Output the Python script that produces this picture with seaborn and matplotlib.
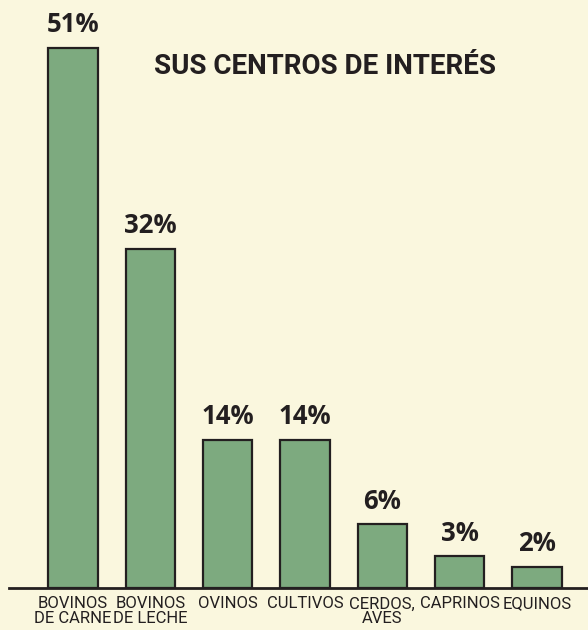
import matplotlib
matplotlib.use("Agg")
import matplotlib.pyplot as plt
import seaborn as sns
import pandas as pd

categories = ["BOVINOS\nDE CARNE", "BOVINOS\nDE LECHE", "OVINOS", "CULTIVOS", "CERDOS,\nAVES", "CAPRINOS", "EQUINOS"]
values = [51, 32, 14, 14, 6, 3, 2]
labels = ["51%", "32%", "14%", "14%", "6%", "3%", "2%"]
title = "SUS CENTROS DE INTERÉS"

bg = "#FAF7DE"
green = "#7DAA7F"
ink = "#231F20"

sns.set_theme(style="white")
plt.rcParams['font.family'] = ['Roboto', 'DejaVu Sans']

df = pd.DataFrame({"cat": categories, "val": values})

fig = plt.figure(figsize=(5.88, 6.30), dpi=100)
fig.patch.set_facecolor(bg)
ax = fig.add_axes([0, 42 / 630, 1, 588 / 630])
ax.set_facecolor(bg)

sns.barplot(data=df, x="cat", y="val", color=green, width=0.64,
            edgecolor=ink, linewidth=1.6, saturation=1, ax=ax)

for i, (v, t) in enumerate(zip(values, labels)):
    ax.text(i, v + 0.9, t, ha="center", va="bottom", fontsize=18.5,
            fontweight="bold", family=["Open Sans", "DejaVu Sans"], color=ink)

ax.set_xlim(-0.944, 6.66)
ax.set_ylim(0, 55.5)
ax.set_xlabel("")
ax.set_ylabel("")
ax.set_yticks([])
ax.tick_params(axis="x", length=0, pad=6, labelsize=12, colors=ink)
for s in ["top", "right", "left"]:
    ax.spines[s].set_visible(False)
ax.spines["bottom"].set_color(ink)
ax.spines["bottom"].set_linewidth(2)
ax.spines["bottom"].set_bounds(-0.83, 6.66)
for lab in ax.get_xticklabels():
    lab.set_linespacing(0.95)

fig.text(325 / 588, 1 - 67 / 630, title, ha="center", va="center",
         fontsize=20, fontweight="bold", color=ink, family=["Roboto", "DejaVu Sans"])

fig.savefig("out.png", dpi=100, facecolor=bg)
